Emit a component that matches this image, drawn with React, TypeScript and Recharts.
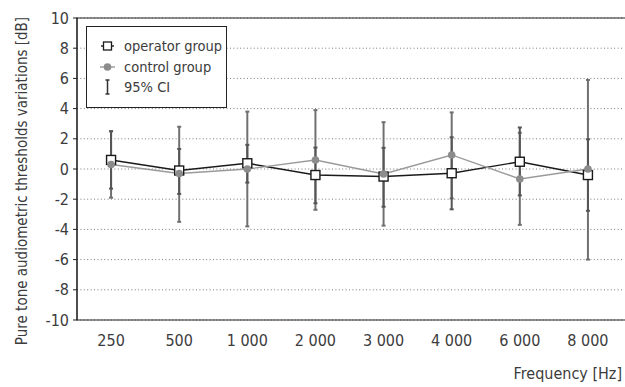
import React from 'react';
import { ComposedChart, Line, XAxis, YAxis, CartesianGrid, ErrorBar, ReferenceArea } from 'recharts';

// Frequencies (x categories)
const freqs = ['250', '500', '1 000', '2 000', '3 000', '4 000', '6 000', '8 000'];

// operator group: mean and 95% CI bounds
const opMean = [0.6, -0.1, 0.38, -0.4, -0.5, -0.28, 0.48, -0.4];
const opLow = [-1.3, -1.65, -0.9, -2.27, -2.5, -2.67, -1.75, -2.77];
const opHigh = [2.5, 1.33, 1.6, 1.42, 1.4, 2.1, 2.75, 1.97];

// control group: mean and 95% CI bounds
const ctMean = [0.3, -0.3, 0, 0.6, -0.33, 0.93, -0.66, 0];
const ctLow = [-1.9, -3.5, -3.8, -2.7, -3.75, -1.95, -3.7, -6.0];
const ctHigh = [2.5, 2.8, 3.8, 3.9, 3.1, 3.75, 2.4, 5.9];

const yTicks = [-10, -8, -6, -4, -2, 0, 2, 4, 6, 8, 10];
const edgeTicks = [0, 1, 2, 3, 4, 5, 6, 7, 8];
const legendNames = ['operator group', 'control group', '95% CI'];

const FONT = '"DejaVu Sans Condensed", "DejaVu Sans", sans-serif';
const TEXT = '#3c3c3c';
const narrow = { fontStretch: 'condensed' as const };

const data = freqs.map((f, i) => ({
  freq: f,
  op: opMean[i],
  ct: ctMean[i],
  opErr: [opMean[i] - opLow[i], opHigh[i] - opMean[i]],
  ctErr: [ctMean[i] - ctLow[i], ctHigh[i] - ctMean[i]],
}));

const SquareDot = (props: any) => {
  const { cx, cy, index } = props;
  if (cx == null || cy == null) return <g key={index} />;
  return <rect key={index} x={cx - 4.5} y={cy - 4.5} width={9} height={9} fill="#fff" stroke="#1a1a1a" strokeWidth={1.4} />;
};

const LegendBox = () => (
  <div
    style={{
      position: 'absolute', left: 86, top: 26, width: 139, height: 80,
      border: '1.5px solid #222', background: '#fff', fontFamily: FONT, fontSize: 14.5, color: TEXT, ...narrow,
    }}
  >
    {legendNames.map((name, i) => (
      <div key={name} style={{ position: 'absolute', left: 0, top: 9 + i * 20.5, height: 20, display: 'flex', alignItems: 'center', whiteSpace: 'nowrap' }}>
        <svg width={36} height={20} style={{ display: 'block' }}>
          {i === 0 && (
            <g>
              <line x1={14} x2={27} y1={10} y2={10} stroke="#1a1a1a" strokeWidth={1.4} />
              <rect x={16.5} y={6} width={8} height={8} fill="#fff" stroke="#1a1a1a" strokeWidth={1.3} />
            </g>
          )}
          {i === 1 && (
            <g>
              <line x1={13} x2={28} y1={10} y2={10} stroke="#999" strokeWidth={1.4} />
              <circle cx={20.5} cy={10} r={3.8} fill="#8c8c8c" />
            </g>
          )}
          {i === 2 && (
            <g stroke="#333" strokeWidth={1.5}>
              <line x1={20.5} x2={20.5} y1={3} y2={17} />
              <line x1={18.5} x2={22.5} y1={3} y2={3} />
              <line x1={18.5} x2={22.5} y1={17} y2={17} />
            </g>
          )}
        </svg>
        <span style={{ marginLeft: 1, lineHeight: '20px' }}>{name}</span>
      </div>
    ))}
  </div>
);

export default function App() {
  return (
    <div style={{ position: 'absolute', left: 0, top: 0, width: 625, height: 387, background: '#fff' }}>
      <ComposedChart width={625} height={387} data={data} margin={{ top: 18, right: 3, left: 0, bottom: 0 }}>
        <CartesianGrid vertical={false} stroke="#7a7a7a" strokeDasharray="1 2.4" />
        <XAxis
          xAxisId="edges"
          type="number"
          domain={[0, 8]}
          ticks={edgeTicks}
          tick={false}
          height={0}
          tickSize={5}
          axisLine={{ stroke: '#222' }}
          tickLine={{ stroke: '#222' }}
        />
        <XAxis
          dataKey="freq"
          scale="band"
          height={67}
          axisLine={false}
          tickLine={false}
          tickSize={0}
          tickMargin={15}
          interval={0}
          tick={{ fill: TEXT, fontSize: 16, fontFamily: FONT, style: narrow }}
          label={{
            content: (p: any) => {
              const vb = p.viewBox || {};
              return (
                <text x={vb.x + vb.width} y={379} textAnchor="end" fill={TEXT} fontSize={16} fontFamily={FONT} style={narrow}>
                  Frequency [Hz]
                </text>
              );
            },
          }}
        />
        <YAxis
          domain={[-10, 10]}
          ticks={yTicks}
          interval={0}
          width={77}
          tickSize={4}
          tickMargin={4}
          axisLine={{ stroke: '#222' }}
          tickLine={{ stroke: '#222' }}
          tick={{ fill: TEXT, fontSize: 16, fontFamily: FONT, style: narrow }}
          label={{
            content: () => (
              <text x={27} y={181} transform="rotate(-90 27 181)" textAnchor="middle" fill={TEXT} fontSize={15} fontFamily={FONT} style={narrow}>
                Pure tone audiometric thresholds variations [dB]
              </text>
            ),
          }}
        />
        <ReferenceArea xAxisId="edges" x1={0} x2={8} y1={-10} y2={10} fill="none" stroke="#222" strokeWidth={1.2} ifOverflow="extendDomain" />
        {/* CI bars first so markers sit on top */}
        <Line dataKey="ct" stroke="none" dot={false} activeDot={false} legendType="none" isAnimationActive={false}>
          <ErrorBar dataKey="ctErr" width={2} stroke="#707070" strokeWidth={2} />
        </Line>
        <Line dataKey="op" stroke="none" dot={false} activeDot={false} legendType="none" isAnimationActive={false}>
          <ErrorBar dataKey="opErr" width={2} stroke="#555" strokeWidth={2} />
        </Line>
        <Line
          dataKey="op"
          type="linear"
          stroke="#1a1a1a"
          strokeWidth={1.4}
          dot={SquareDot}
          activeDot={false}
          isAnimationActive={false}
        />
        <Line
          dataKey="ct"
          type="linear"
          stroke="#9a9a9a"
          strokeWidth={1.4}
          dot={{ r: 3.8, fill: '#8c8c8c', stroke: 'none' }}
          activeDot={false}
          isAnimationActive={false}
        />
      </ComposedChart>
      <LegendBox />
    </div>
  );
}
